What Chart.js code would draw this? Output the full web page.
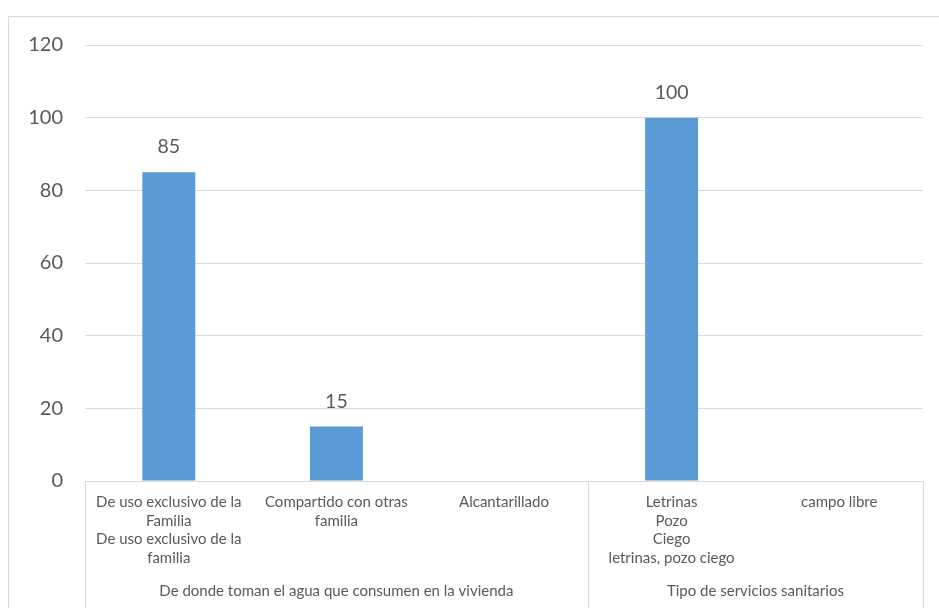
<!DOCTYPE html>
<html>
<head>
<meta charset="utf-8">
<script src="https://cdn.jsdelivr.net/npm/chart.js@4/dist/chart.umd.min.js"></script>
<style>
  html, body { margin: 0; padding: 0; background: #fff; }
  #wrap { position: relative; width: 939px; height: 608px; overflow: hidden; }
</style>
</head>
<body>
<div id="wrap"><canvas id="chart" width="939" height="608"></canvas></div>
<script>
// ── Data ─────────────────────────────────────────────────────────────────────
const categories = [
  ['De uso exclusivo de la', 'Familia', 'De uso exclusivo de la', 'familia'],
  ['Compartido con otras', 'familia'],
  ['Alcantarillado'],
  ['Letrinas', 'Pozo', 'Ciego', 'letrinas, pozo ciego'],
  ['campo libre']
];
const values     = [85, 15, null, 100, null];
const groups     = ['De donde toman el agua que consumen en la vivienda', 'Tipo de servicios sanitarios'];
const groupSpans = [3, 2];
const yTicks     = [0, 20, 40, 60, 80, 100, 120];

// ── Style ────────────────────────────────────────────────────────────────────
const TEXT   = '#595959';
const GRID   = '#D9D9D9';
const BAR    = '#5B9BD5';
const FONT   = 'Lato, "Open Sans", sans-serif';

// Outer chart frame + grouped axis boxes
const framePlugin = {
  id: 'frame',
  beforeDraw(chart) {
    const c = chart.ctx;
    c.save();
    c.strokeStyle = GRID;
    c.lineWidth = 1;
    c.beginPath();
    c.moveTo(8.5, chart.height);
    c.lineTo(8.5, 16.5);
    c.lineTo(chart.width, 16.5);
    c.stroke();
    c.restore();
  },
  afterDraw(chart) {
    const c  = chart.ctx;
    const x  = chart.scales.x;
    const ca = chart.chartArea;
    const step = (ca.right - ca.left) / categories.length;
    c.save();
    c.strokeStyle = GRID;
    c.lineWidth = 1;
    c.fillStyle = TEXT;
    c.font = '15px ' + FONT;
    c.textAlign = 'center';
    c.textBaseline = 'middle';
    let idx = 0;
    const edges = [idx];
    groups.forEach((g, gi) => {
      const first = idx, last = idx + groupSpans[gi] - 1;
      const left  = x.getPixelForValue(first) - step / 2;
      const right = x.getPixelForValue(last) + step / 2;
      c.fillText(g, (left + right) / 2, 591);
      idx += groupSpans[gi];
      edges.push(idx);
    });
    edges.forEach(e => {
      const px = Math.round(x.getPixelForValue(e) - step / 2) + 0.5;
      c.beginPath();
      c.moveTo(px, ca.bottom);
      c.lineTo(px, chart.height);
      c.stroke();
    });
    c.restore();
  }
};

// Value labels above bars
const valueLabels = {
  id: 'valueLabels',
  afterDatasetsDraw(chart) {
    const c = chart.ctx;
    const meta = chart.getDatasetMeta(0);
    c.save();
    c.fillStyle = TEXT;
    c.font = '19.5px ' + FONT;
    c.textAlign = 'center';
    c.textBaseline = 'middle';
    meta.data.forEach((bar, i) => {
      if (values[i] == null) return;
      c.fillText(String(values[i]), bar.x, bar.y - 25);
    });
    c.restore();
  }
};

new Chart(document.getElementById('chart'), {
  type: 'bar',
  data: {
    labels: categories,
    datasets: [{
      data: values,
      backgroundColor: BAR,
      borderWidth: 0,
      categoryPercentage: 1,
      barPercentage: 0.316
    }]
  },
  options: {
    responsive: false,
    animation: false,
    layout: { padding: { top: 45, right: 16, left: 0, bottom: 0 } },
    plugins: {
      legend: { display: false },
      tooltip: { enabled: false }
    },
    scales: {
      x: {
        grid: { display: false, drawTicks: false },
        border: { display: true, color: GRID },
        ticks: {
          color: TEXT,
          font: { family: FONT, size: 15, lineHeight: 1.24 },
          padding: 12,
          maxRotation: 0,
          autoSkip: false
        },
        afterFit: s => { s.height = 127; }
      },
      y: {
        min: 0,
        max: 120,
        afterBuildTicks: s => { s.ticks = yTicks.map(v => ({ value: v })); },
        grid: { color: GRID, drawTicks: false },
        border: { display: false },
        ticks: {
          color: TEXT,
          font: { family: FONT, size: 20 },
          padding: 22
        },
        afterFit: s => { s.width = 85; }
      }
    }
  },
  plugins: [framePlugin, valueLabels]
});
</script>
</body>
</html>
